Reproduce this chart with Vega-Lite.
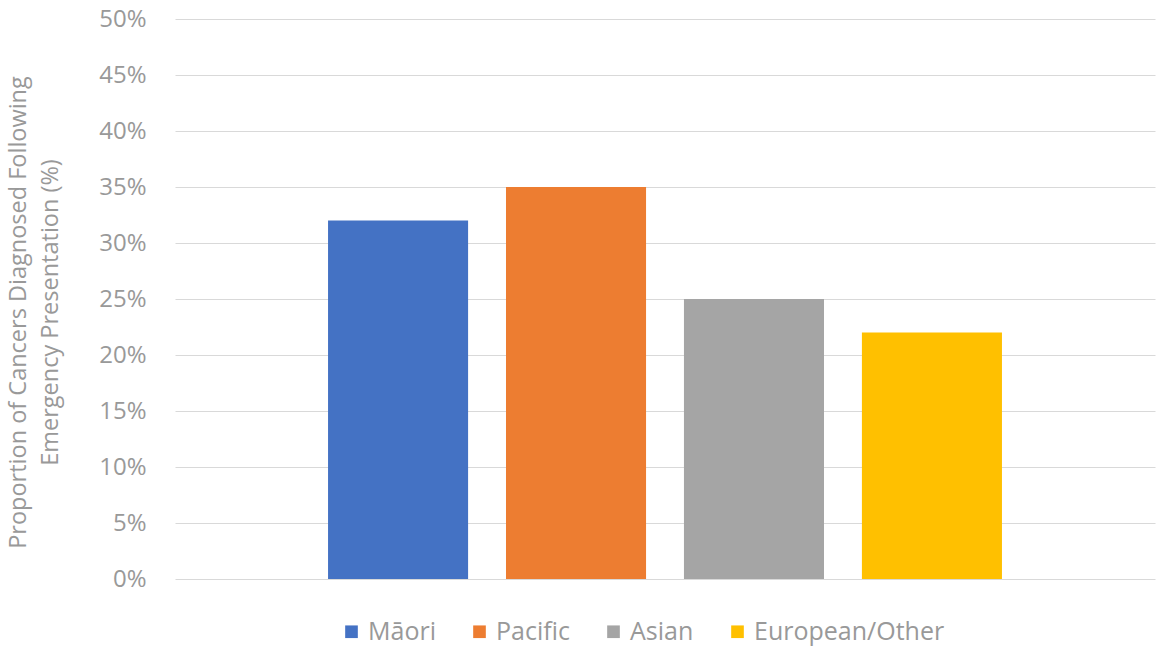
{
  "$schema": "https://vega.github.io/schema/vega-lite/v6.json",
  "autosize": "none",
  "width": 980,
  "height": 560,
  "padding": {"left": 175, "top": 19, "right": 4, "bottom": 67},
  "background": "white",
  "config": {
    "view": {"stroke": null},
    "font": "Open Sans"
  },
  "data": {
    "values": [
      {"group": "Māori", "value": 0.32},
      {"group": "Pacific", "value": 0.35},
      {"group": "Asian", "value": 0.25},
      {"group": "European/Other", "value": 0.22}
    ]
  },
  "mark": {"type": "bar"},
  "encoding": {
    "x": {
      "field": "group",
      "type": "nominal",
      "sort": ["Māori", "Pacific", "Asian", "European/Other"],
      "scale": {"paddingInner": 0.213, "paddingOuter": 0.86},
      "axis": null
    },
    "y": {
      "field": "value",
      "type": "quantitative",
      "scale": {"domain": [0, 0.5], "nice": false},
      "axis": {
        "values": [0, 0.05, 0.1, 0.15, 0.2, 0.25, 0.3, 0.35, 0.4, 0.45, 0.5],
        "format": ".0%",
        "domain": false,
        "ticks": false,
        "grid": true,
        "gridColor": "#d9d9d9",
        "gridWidth": 1.2,
        "labelFontSize": 24,
        "labelColor": "#999999",
        "labelPadding": 29,
        "labelFont": "Open Sans",
        "title": ["Proportion of Cancers Diagnosed Following", "Emergency Presentation (%)"],
        "titleFontSize": 23.5,
        "titleFontWeight": "normal",
        "titleColor": "#999999",
        "titleFont": "Open Sans",
        "titleLineHeight": 32,
        "titleX": -145,
        "titleY": 293,
        "titleAngle": -90,
        "titleAlign": "center",
        "titleBaseline": "bottom",
        "titleLimit": 600
      }
    },
    "color": {
      "field": "group",
      "type": "nominal",
      "sort": ["Māori", "Pacific", "Asian", "European/Other"],
      "scale": {
        "domain": ["Māori", "Pacific", "Asian", "European/Other"],
        "range": ["#4472C4", "#ED7D31", "#A5A5A5", "#FFC000"]
      },
      "legend": {
        "title": null,
        "orient": "none",
        "direction": "horizontal",
        "legendX": 164,
        "legendY": 600,
        "symbolType": "square",
        "symbolSize": 160,
        "symbolStrokeWidth": 0,
        "labelFontSize": 25,
        "labelColor": "#999999",
        "labelFont": "Open Sans",
        "labelOffset": 4,
        "labelLimit": 400,
        "columnPadding": 31,
        "columns": 4
      }
    }
  }
}
